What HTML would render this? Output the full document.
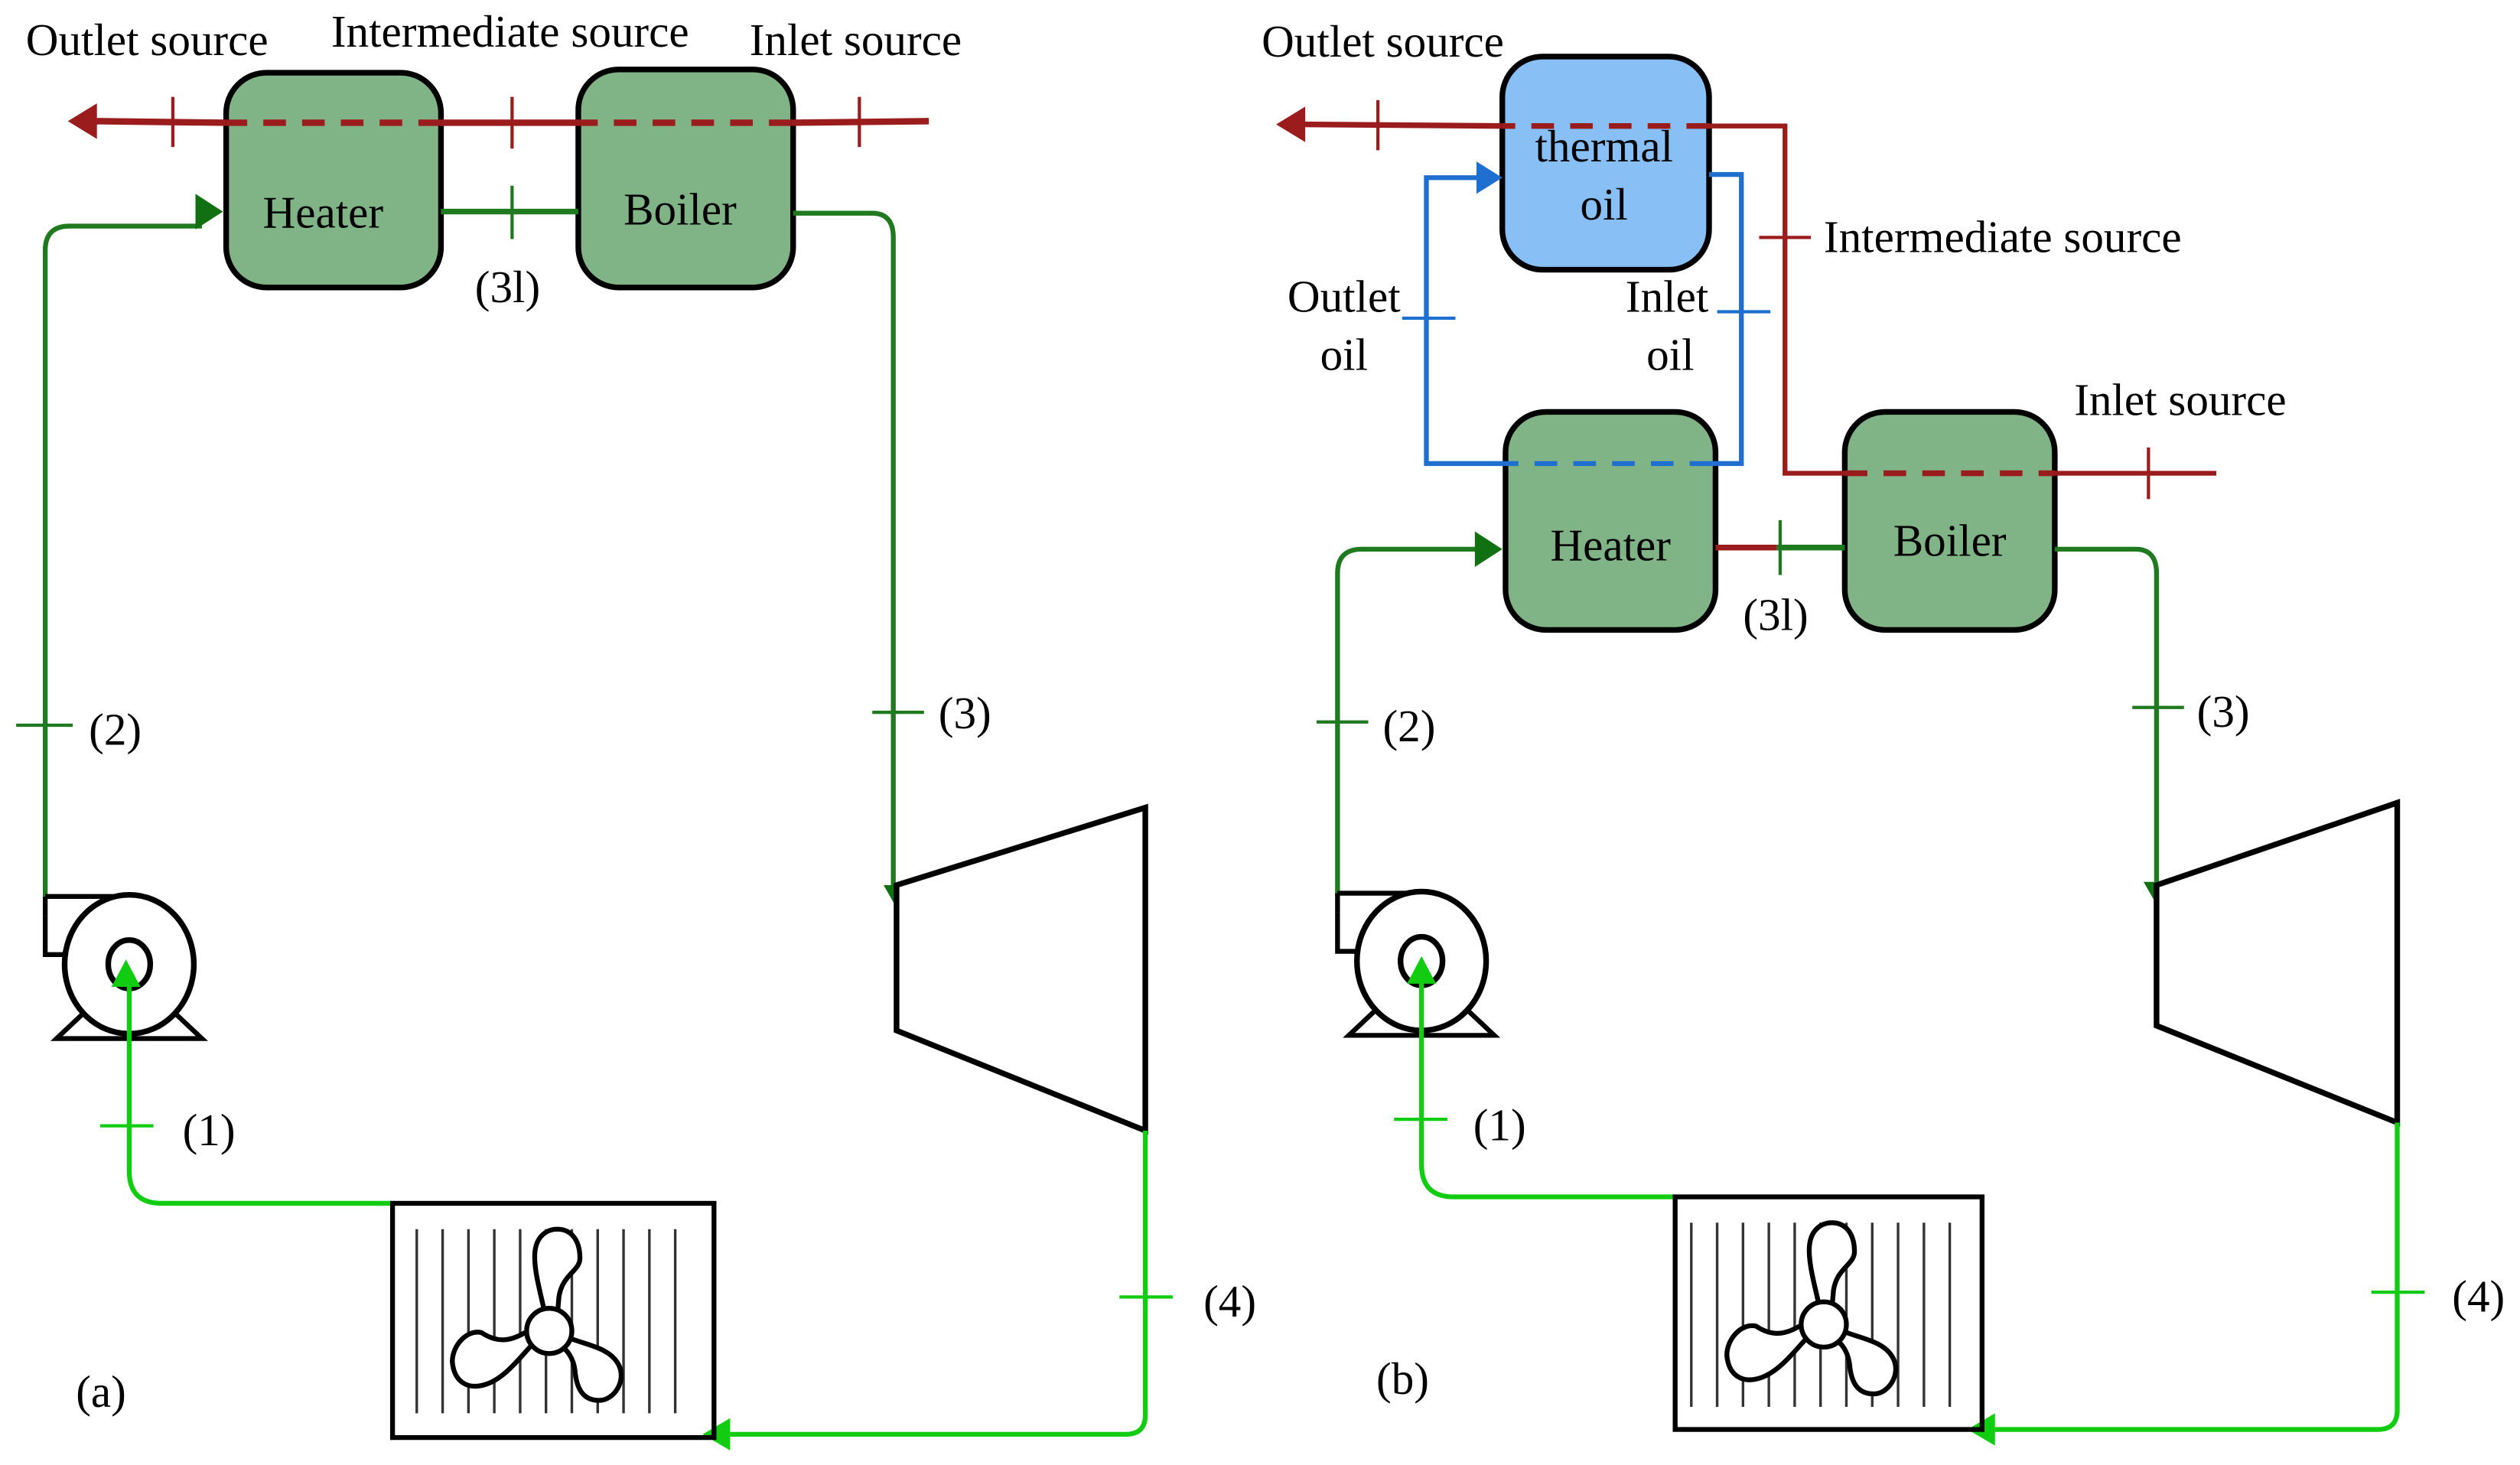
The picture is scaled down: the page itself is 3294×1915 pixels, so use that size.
<!DOCTYPE html>
<html><head><meta charset="utf-8"><style>
html,body{margin:0;padding:0;background:#fff;}
svg{display:block;}
text{font-family:"Liberation Serif",serif;font-size:28px;fill:#000;}
</style></head><body>
<svg width="3294" height="1915" viewBox="0 0 1560 907" preserveAspectRatio="none" xmlns="http://www.w3.org/2000/svg">
<defs>
<g id="pump">
  <path d="M-52,-30 V-6 H-40" fill="none" stroke="#000" stroke-width="3"/>
  <path d="M-52,-42 H-5" fill="none" stroke="#000" stroke-width="3"/>
  <path d="M-52,-42 V-30" fill="none" stroke="#000" stroke-width="3"/>
  <path d="M-28,30 L-45,46 H45 L28,30" fill="none" stroke="#000" stroke-width="3"/>
  <ellipse cx="0" cy="0" rx="40" ry="43" fill="#fff" stroke="#000" stroke-width="3.5"/>
  <ellipse cx="0" cy="0" rx="13" ry="15" fill="none" stroke="#000" stroke-width="3.5"/>
</g>
<g id="rad">
  <g stroke="#333" stroke-width="1.6">
    <line x1="15" y1="16" x2="15" y2="130"/><line x1="31" y1="16" x2="31" y2="130"/><line x1="47" y1="16" x2="47" y2="130"/>
    <line x1="63" y1="16" x2="63" y2="130"/><line x1="79" y1="16" x2="79" y2="130"/><line x1="95" y1="16" x2="95" y2="130"/>
    <line x1="111" y1="16" x2="111" y2="130"/><line x1="127" y1="16" x2="127" y2="130"/><line x1="143" y1="16" x2="143" y2="130"/>
    <line x1="159" y1="16" x2="159" y2="130"/><line x1="175" y1="16" x2="175" y2="130"/>
  </g>
  <path d="M95,72 C93,60 88,45 88,33 C88,20 96,16 102,16 C110,16 116,22 116,34 C116,42 105,44 103,58 L102,70
           M111,84 C122,88 135,90 140,100 C145,110 137,122 128,122 C118,122 114,115 113,104 C112,95 107,90 106,90
           M86,88 C80,94 70,108 58,112 C46,116 38,110 37,98 C37,88 46,78 55,80 C64,86 72,86 82,80"
        fill="#fff" stroke="#000" stroke-width="3" stroke-linejoin="round"/>
  <circle cx="97" cy="79" r="14" fill="#fff" stroke="#000" stroke-width="3"/>
</g>
</defs>

<!-- ============ PANEL A ============ -->
<rect x="140" y="45" width="133" height="133" rx="25" fill="#80b386" stroke="#000" stroke-width="3.5"/>
<rect x="358" y="43" width="133" height="135" rx="25" fill="#80b386" stroke="#000" stroke-width="3.5"/>
<line x1="575" y1="75" x2="490" y2="76" stroke="#9b1c1c" stroke-width="4"/>
<line x1="490" y1="76" x2="358" y2="76" stroke="#9b1c1c" stroke-width="4" stroke-dasharray="14,10"/>
<line x1="358" y1="76" x2="273" y2="76" stroke="#9b1c1c" stroke-width="4"/>
<line x1="273" y1="76" x2="140" y2="76" stroke="#9b1c1c" stroke-width="4" stroke-dasharray="14,10"/>
<line x1="140" y1="76" x2="58" y2="75" stroke="#9b1c1c" stroke-width="4"/>
<polygon points="42,75 60,64 60,86" fill="#9b1c1c"/>
<g stroke="#9b1c1c" stroke-width="2"><line x1="107" y1="60" x2="107" y2="91"/><line x1="317" y1="60" x2="317" y2="92"/><line x1="532" y1="60" x2="532" y2="91"/></g>
<text x="200" y="141" text-anchor="middle">Heater</text>
<text x="421" y="139" text-anchor="middle">Boiler</text>
<path d="M28,555 V155 Q28,140 43,140 H125" fill="none" stroke="#1f7a1f" stroke-width="3"/>
<polygon points="138,131 121,120 121,142" fill="#117011"/>
<line x1="273" y1="131" x2="358" y2="131" stroke="#1f7a1f" stroke-width="3.5"/>
<line x1="317" y1="115" x2="317" y2="148" stroke="#1f7a1f" stroke-width="2"/>
<path d="M491,132 H540 Q553,132 553,147 V548" fill="none" stroke="#1f7a1f" stroke-width="3"/>
<polygon points="547,548 563,548 555,562" fill="#117011"/>
<line x1="10" y1="449" x2="45" y2="449" stroke="#1f7a1f" stroke-width="2"/>
<line x1="540" y1="441" x2="572" y2="441" stroke="#1f7a1f" stroke-width="2"/>
<text x="55" y="461">(2)</text>
<text x="581" y="451">(3)</text>
<text x="294" y="187">(3l)</text>
<polygon points="555,548 709,500 709,700 555,638" fill="#fff" stroke="#000" stroke-width="3.5"/>
<path d="M709,700 V876 Q709,888 697,888 H452" fill="none" stroke="#11cc11" stroke-width="3"/>
<polygon points="435,888 452,878 452,898" fill="#11cc11"/>
<line x1="693" y1="803" x2="726" y2="803" stroke="#11cc11" stroke-width="2"/>
<text x="745" y="815">(4)</text>
<use href="#pump" x="80" y="597"/>
<path d="M243,745 H100 Q80,745 80,725 V608" fill="none" stroke="#11cc11" stroke-width="3"/>
<polygon points="78,594 69,611 87,611" fill="#11cc11"/>
<line x1="62" y1="697" x2="95" y2="697" stroke="#11cc11" stroke-width="2"/>
<text x="113" y="709">(1)</text>
<rect x="243" y="745" width="199" height="145" fill="none" stroke="#000" stroke-width="3"/>
<use href="#rad" x="243" y="745"/>
<text x="47" y="871">(a)</text>
<text x="16" y="34">Outlet source</text>
<text x="205" y="29">Intermediate source</text>
<text x="464" y="34">Inlet source</text>

<!-- ============ PANEL B ============ -->
<rect x="930" y="35" width="128" height="132" rx="25" fill="#88c0f5" stroke="#000" stroke-width="3.5"/>
<rect x="932" y="255" width="130" height="135" rx="25" fill="#80b386" stroke="#000" stroke-width="3.5"/>
<rect x="1142" y="255" width="130" height="135" rx="25" fill="#80b386" stroke="#000" stroke-width="3.5"/>
<path d="M1058,78 H1105 V293 H1142" fill="none" stroke="#9b1c1c" stroke-width="3"/>
<line x1="1058" y1="78" x2="930" y2="78" stroke="#9b1c1c" stroke-width="3.5" stroke-dasharray="14,10"/>
<line x1="930" y1="78" x2="806" y2="77" stroke="#9b1c1c" stroke-width="3.5"/>
<polygon points="790,77 808,66 808,88" fill="#9b1c1c"/>
<line x1="1142" y1="293" x2="1272" y2="293" stroke="#9b1c1c" stroke-width="3.5" stroke-dasharray="14,10"/>
<line x1="1272" y1="293" x2="1372" y2="293" stroke="#9b1c1c" stroke-width="3"/>
<g stroke="#9b1c1c" stroke-width="2"><line x1="853" y1="62" x2="853" y2="93"/><line x1="1330" y1="277" x2="1330" y2="309"/><line x1="1089" y1="147" x2="1121" y2="147"/></g>
<path d="M932,287 H883 V110 H916" fill="none" stroke="#1f6fd0" stroke-width="3"/>
<polygon points="930,110 914,100 914,120" fill="#1f6fd0"/>
<path d="M1058,108 H1078 V287 H1060" fill="none" stroke="#1f6fd0" stroke-width="3"/>
<line x1="1060" y1="287" x2="932" y2="287" stroke="#1f6fd0" stroke-width="3" stroke-dasharray="14,10"/>
<g stroke="#1f6fd0" stroke-width="2"><line x1="868" y1="197" x2="901" y2="197"/><line x1="1063" y1="193" x2="1096" y2="193"/></g>
<text x="993" y="100" text-anchor="middle">thermal</text>
<text x="993" y="136" text-anchor="middle">oil</text>
<text x="832" y="193" text-anchor="middle">Outlet</text>
<text x="832" y="229" text-anchor="middle">oil</text>
<text x="1032" y="193" text-anchor="middle">Inlet</text>
<text x="1034" y="229" text-anchor="middle">oil</text>
<text x="997" y="347" text-anchor="middle">Heater</text>
<text x="1207" y="344" text-anchor="middle">Boiler</text>
<line x1="1062" y1="339" x2="1100" y2="339" stroke="#9b1c1c" stroke-width="3.5"/>
<line x1="1100" y1="339" x2="1142" y2="339" stroke="#1f7a1f" stroke-width="3.5"/>
<line x1="1102" y1="322" x2="1102" y2="356" stroke="#1f7a1f" stroke-width="2"/>
<text x="1079" y="390">(3l)</text>
<path d="M828,555 V355 Q828,340 843,340 H916" fill="none" stroke="#1f7a1f" stroke-width="3"/>
<polygon points="930,340 913,329 913,351" fill="#117011"/>
<path d="M1272,340 H1322 Q1335,340 1335,355 V546" fill="none" stroke="#1f7a1f" stroke-width="3"/>
<polygon points="1327,546 1343,546 1335,560" fill="#117011"/>
<line x1="815" y1="447" x2="847" y2="447" stroke="#1f7a1f" stroke-width="2"/>
<line x1="1320" y1="438" x2="1352" y2="438" stroke="#1f7a1f" stroke-width="2"/>
<text x="856" y="459">(2)</text>
<text x="1360" y="450">(3)</text>
<polygon points="1335,548 1484,497 1484,695 1335,635" fill="#fff" stroke="#000" stroke-width="3.5"/>
<path d="M1484,695 V873 Q1484,885 1472,885 H1235" fill="none" stroke="#11cc11" stroke-width="3"/>
<polygon points="1218,885 1235,875 1235,895" fill="#11cc11"/>
<line x1="1468" y1="800" x2="1501" y2="800" stroke="#11cc11" stroke-width="2"/>
<text x="1518" y="812">(4)</text>
<use href="#pump" x="880" y="595"/>
<path d="M1037,741 H900 Q880,741 880,721 V606" fill="none" stroke="#11cc11" stroke-width="3"/>
<polygon points="880,592 871,609 889,609" fill="#11cc11"/>
<line x1="863" y1="693" x2="896" y2="693" stroke="#11cc11" stroke-width="2"/>
<text x="912" y="706">(1)</text>
<rect x="1037" y="741" width="190" height="144" fill="none" stroke="#000" stroke-width="3"/>
<use href="#rad" x="1032" y="741"/>
<text x="852" y="863">(b)</text>
<text x="781" y="35">Outlet source</text>
<text x="1129" y="156">Intermediate source</text>
<text x="1284" y="257">Inlet source</text>
</svg>
</body></html>
